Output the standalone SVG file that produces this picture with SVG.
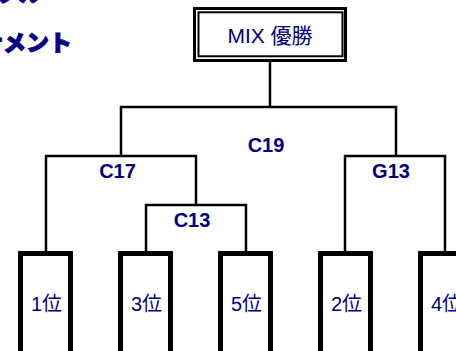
<svg xmlns="http://www.w3.org/2000/svg" width="456" height="351" viewBox="0 0 456 351">
<style>
.bg{fill:#fff}
.ln{stroke:#000;stroke-width:2.5;fill:none;stroke-linecap:square}
.box{fill:#fff;stroke:#000;stroke-width:5}
.lbl{font-family:"Liberation Sans","Noto Sans CJK JP",sans-serif;font-weight:bold;font-size:20px;fill:#000080;text-anchor:middle}
.rank{font-family:"Liberation Sans","Noto Sans CJK JP",sans-serif;font-size:20px;fill:#000080;text-anchor:middle}
.title{font-family:"Noto Sans CJK JP",sans-serif;font-weight:900;font-size:23px;fill:#000080;stroke:#000080;stroke-width:0.9;text-anchor:end}
</style>
<rect class="bg" x="0" y="0" width="456" height="351"/>
<g id="title">
<text class="title" x="42" y="1">ミックスダブル</text>
<text class="title" x="72" y="51">トーナメント</text>
</g>
<g id="connectors">
<path class="ln" d="M270 62V107M121 107H396M121 107V156M46 156H196M46 156V251M196 156V205M146 205H246M146 205V251M246 205V251M396 107V156M345 156H445M345 156V251M445 156V251"/>
</g>
<g id="winner">
<rect x="194.5" y="8.5" width="151" height="52" fill="#fff" stroke="#000" stroke-width="3"/>
<rect x="198.5" y="12.3" width="144" height="44" fill="none" stroke="#000" stroke-width="2"/>
<text x="270" y="43" font-family="'Liberation Sans','Noto Sans CJK JP',sans-serif" font-size="21" fill="#000080" text-anchor="middle">MIX 優勝</text>
</g>
<g id="labels">
<text class="lbl" x="266" y="151.5">C19</text>
<text class="lbl" x="117.5" y="177.5">C17</text>
<text class="lbl" x="192" y="227">C13</text>
<text class="lbl" x="391" y="178">G13</text>
</g>
<g id="p1"><rect class="box" x="20.5" y="253.5" width="50" height="120"/><text class="rank" x="46.5" y="311">1位</text></g>
<g id="p3"><rect class="box" x="120.5" y="253.5" width="50" height="120"/><text class="rank" x="146.5" y="311">3位</text></g>
<g id="p5"><rect class="box" x="220.5" y="253.5" width="50" height="120"/><text class="rank" x="246.5" y="311">5位</text></g>
<g id="p2"><rect class="box" x="320.5" y="253.5" width="50" height="120"/><text class="rank" x="346.5" y="311">2位</text></g>
<g id="p4"><rect class="box" x="420.5" y="253.5" width="50" height="120"/><text class="rank" x="446.5" y="311">4位</text></g>
</svg>
